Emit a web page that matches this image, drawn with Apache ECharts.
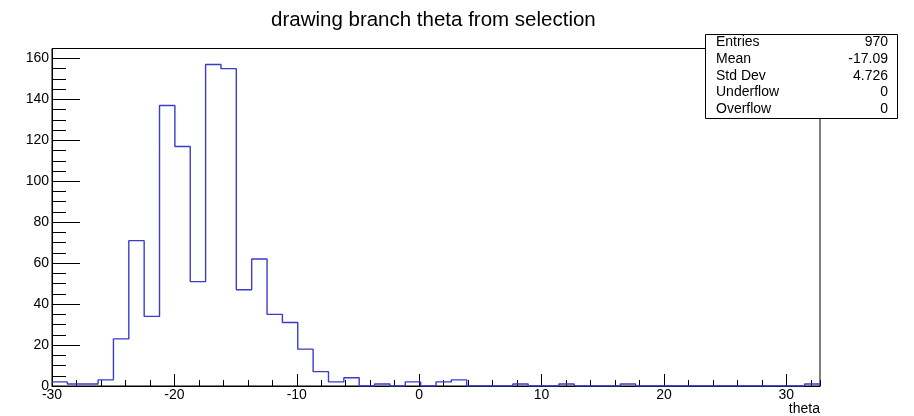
<!DOCTYPE html>
<html>
<head>
<meta charset="utf-8">
<script src="https://cdn.jsdelivr.net/npm/echarts@6/dist/echarts.min.js"></script>
<style>
  html, body { margin: 0; padding: 0; background: #fff; }
  #chart { width: 914px; height: 416px; }
</style>
</head>
<body>
<div id="chart"></div>
<script>
// Histogram binning: 50 equal bins starting at X_MIN
const X_MIN = -30;
const BIN_WIDTH = 1.255;
const N_BINS = 50;

// Bin contents of "theta"
const binCounts = [
  2, 1, 1, 3, 23, 71, 34, 137, 117, 51,
  157, 155, 47, 62, 35, 31, 18, 7, 2, 4,
  0, 1, 0, 2, 0, 2, 3, 0, 0, 0,
  1, 0, 0, 1, 0, 0, 0, 1, 0, 0,
  0, 0, 0, 0, 0, 0, 0, 0, 0, 1
];

// Statistics box rows
const statLabels = ['Entries', 'Mean', 'Std Dev', 'Underflow', 'Overflow'];
const statValues = ['970', '-17.09', '4.726', '0', '0'];

const Y_MAX = 164.85;
const X_MAX = X_MIN + N_BINS * BIN_WIDTH;
const FONT = '"Liberation Sans", Arial, Helvetica, sans-serif';

// step outline: one point per bin's left edge, plus the final right edge
const stepPoints = binCounts.map((c, i) => [X_MIN + i * BIN_WIDTH, c]);
stepPoints.push([X_MAX, binCounts[binCounts.length - 1]]);

const chart = echarts.init(document.getElementById('chart'), null, { renderer: 'canvas' });

const GRID = { left: 52, top: 48.5, right: 94, bottom: 30 };

const statGraphics = [];
statGraphics.push({
  type: 'rect',
  shape: { x: 705.5, y: 34.5, width: 192, height: 84 },
  style: { fill: '#fff', stroke: '#000', lineWidth: 1 },
  z: 100
});
statLabels.forEach((lab, i) => {
  const y = 42.5 + i * 16.7;
  statGraphics.push({
    type: 'text', x: 716, y: y, z: 101,
    style: { text: lab, font: '14px ' + FONT, fill: '#000', textAlign: 'left', textVerticalAlign: 'middle' }
  });
  statGraphics.push({
    type: 'text', x: 888, y: y, z: 101,
    style: { text: statValues[i], font: '14px ' + FONT, fill: '#000', textAlign: 'right', textVerticalAlign: 'middle' }
  });
});
statGraphics.push({
  type: 'text', x: 820, y: 402, z: 101,
  style: { text: 'theta', font: '14px ' + FONT, fill: '#000', textAlign: 'right', textVerticalAlign: 'top' }
});

const tickLabelStyle = { color: '#000', fontSize: 14, fontFamily: FONT };

chart.setOption({
  animation: false,
  backgroundColor: '#fff',
  title: {
    text: 'drawing branch theta from selection',
    left: 266, top: 5,
    textStyle: { fontFamily: FONT, fontSize: 20.5, fontWeight: 'normal', color: '#000' }
  },
  grid: Object.assign({ show: true, borderColor: '#000', borderWidth: 1, backgroundColor: 'transparent' }, GRID),
  xAxis: [
    {
      type: 'value', position: 'bottom', min: X_MIN, max: X_MAX, interval: 10,
      axisLine: { show: true, onZero: false, lineStyle: { color: '#000', width: 1 } },
      axisTick: { show: true, inside: true, length: 12, lineStyle: { color: '#000' } },
      axisLabel: Object.assign({ margin: 2, showMaxLabel: false }, tickLabelStyle),
      splitLine: { show: false }
    },
    {
      type: 'value', position: 'bottom', min: X_MIN, max: X_MAX, interval: 2,
      axisLine: { show: false, onZero: false },
      axisTick: { show: true, inside: true, length: 6, lineStyle: { color: '#000' } },
      axisLabel: { show: false },
      splitLine: { show: false }
    }
  ],
  yAxis: [
    {
      type: 'value', position: 'left', min: 0, max: Y_MAX, interval: 20,
      axisLine: { show: true, onZero: false, lineStyle: { color: '#000', width: 1 } },
      axisTick: { show: true, inside: true, length: 28, lineStyle: { color: '#000' } },
      axisLabel: Object.assign({ margin: 3, showMaxLabel: false }, tickLabelStyle),
      splitLine: { show: false }
    },
    {
      type: 'value', position: 'left', min: 0, max: Y_MAX, interval: 5,
      axisLine: { show: false, onZero: false },
      axisTick: { show: true, inside: true, length: 14, lineStyle: { color: '#000' } },
      axisLabel: { show: false },
      splitLine: { show: false }
    }
  ],
  series: [
    {
      type: 'line',
      xAxisIndex: 0, yAxisIndex: 0,
      step: 'end',
      data: stepPoints,
      showSymbol: false,
      symbol: 'none',
      lineStyle: { color: '#3b3bcc', width: 1.4 },
      z: 3
    }
  ],
  graphic: statGraphics
});
</script>
</body>
</html>
